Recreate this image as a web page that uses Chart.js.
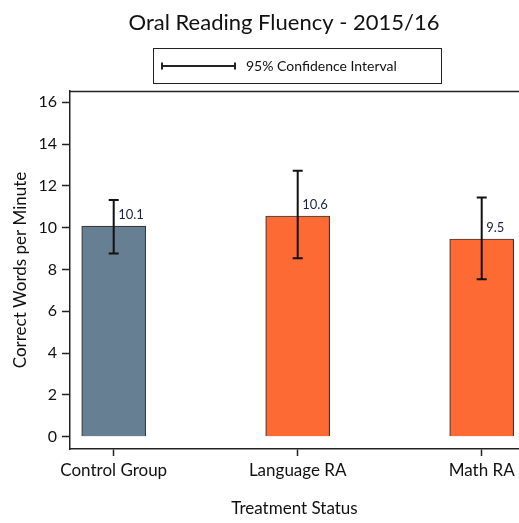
<!DOCTYPE html>
<html>
<head>
<meta charset="utf-8">
<script src="https://cdn.jsdelivr.net/npm/chart.js@4"></script>
<style>
  body { margin: 0; background: #fff; }
</style>
</head>
<body>
<canvas id="chart" width="519" height="523"></canvas>
<script>
const categories = ["Control Group", "Language RA", "Math RA"];
const values = [10.08, 10.56, 9.46];
const ciLow = [8.77, 8.54, 7.53];
const ciHigh = [11.33, 12.73, 11.45];
const yTicks = [0, 2, 4, 6, 8, 10, 12, 14, 16];
const barColors = ["#667f93", "#fe6a33", "#fe6a33"];

const FONT = "Lato, 'Open Sans', sans-serif";

// title, legend box, frame line, error bars and value labels
const extras = {
    id: "extras",
    afterDatasetsDraw: (chart) => {
        const { ctx, chartArea } = chart;
        const x = chart.scales.x;
        const y = chart.scales.y;
        ctx.save();

        // top frame line
        ctx.strokeStyle = "#222";
        ctx.lineWidth = 1.5;
        ctx.beginPath();
        ctx.moveTo(chartArea.left, chartArea.top + 0.5);
        ctx.lineTo(chartArea.right, chartArea.top + 0.5);
        ctx.stroke();

        // error bars
        ctx.strokeStyle = "#111";
        ctx.lineWidth = 2;
        categories.forEach((c, i) => {
            const px = x.getPixelForValue(i);
            const lo = y.getPixelForValue(ciLow[i]);
            const hi = y.getPixelForValue(ciHigh[i]);
            ctx.beginPath();
            ctx.moveTo(px, lo);
            ctx.lineTo(px, hi);
            ctx.moveTo(px - 5, lo);
            ctx.lineTo(px + 5, lo);
            ctx.moveTo(px - 5, hi);
            ctx.lineTo(px + 5, hi);
            ctx.stroke();
        });

        // value labels
        ctx.fillStyle = "#1e2140";
        ctx.font = "13px " + FONT;
        ctx.textAlign = "left";
        ctx.textBaseline = "alphabetic";
        values.forEach((v, i) => {
            const px = x.getPixelForValue(i);
            const py = y.getPixelForValue(v);
            ctx.fillText(v.toFixed(1), px + 4.5, py - 7);
        });

        // title
        ctx.fillStyle = "#111";
        ctx.font = "22px " + FONT;
        ctx.textAlign = "center";
        ctx.fillText("Oral Reading Fluency - 2015/16", 284, 30);

        // legend
        ctx.strokeStyle = "#222";
        ctx.lineWidth = 1;
        ctx.strokeRect(153.5, 48.5, 288, 35);
        ctx.lineWidth = 2;
        ctx.beginPath();
        ctx.moveTo(162, 66);
        ctx.lineTo(235, 66);
        ctx.moveTo(162, 62.5);
        ctx.lineTo(162, 69.5);
        ctx.moveTo(235, 62.5);
        ctx.lineTo(235, 69.5);
        ctx.stroke();
        ctx.font = "14px " + FONT;
        ctx.textAlign = "left";
        ctx.textBaseline = "middle";
        ctx.fillText("95% Confidence Interval", 246, 66.5);

        ctx.restore();
    },
};

new Chart(document.getElementById("chart"), {
    type: "bar",
    data: {
        datasets: [
            {
                data: categories.map((c, i) => ({ x: i, y: values[i] })),
                backgroundColor: barColors,
                borderColor: "#3a3a3a",
                borderWidth: 1.2,
                barThickness: 64,
            },
        ],
    },
    options: {
        responsive: false,
        animation: false,
        layout: { padding: { top: 91, left: 0, right: 0, bottom: 0 } },
        plugins: {
            legend: { display: false },
            tooltip: { enabled: false },
        },
        scales: {
            x: {
                type: "linear",
                min: -0.2375,
                max: 2.2027,
                offset: false,
                afterBuildTicks: (scale) => {
                    scale.ticks = categories.map((c, i) => ({ value: i }));
                },
                afterFit: (scale) => {
                    scale.height = 74;
                },
                ticks: {
                    callback: (v) => categories[v],
                    color: "#111",
                    font: { family: FONT, size: 17 },
                    padding: 4,
                    maxRotation: 0,
                },
                grid: {
                    offset: false,
                    drawOnChartArea: false,
                    drawTicks: true,
                    tickLength: 7,
                    tickWidth: 1.5,
                    tickColor: "#222",
                },
                border: { display: true, color: "#222", width: 1.5 },
                title: {
                    display: true,
                    text: "Treatment Status",
                    color: "#111",
                    font: { family: FONT, size: 17 },
                    padding: { top: 0, bottom: 4 },
                },
            },
            y: {
                min: -0.589,
                max: 16.54,
                afterBuildTicks: (scale) => {
                    scale.ticks = yTicks.map((v) => ({ value: v }));
                },
                afterFit: (scale) => {
                    scale.width = 70;
                },
                ticks: {
                    color: "#111",
                    font: { family: FONT, size: 16 },
                    padding: 5,
                },
                grid: {
                    drawOnChartArea: false,
                    drawTicks: true,
                    tickLength: 8,
                    tickWidth: 1.5,
                    tickColor: "#222",
                },
                border: { display: true, color: "#222", width: 1.5 },
                title: {
                    display: true,
                    text: "Correct Words per Minute",
                    color: "#111",
                    font: { family: FONT, size: 17 },
                    padding: { top: 10, bottom: 0 },
                },
            },
        },
    },
    plugins: [extras],
});
</script>
</body>
</html>
